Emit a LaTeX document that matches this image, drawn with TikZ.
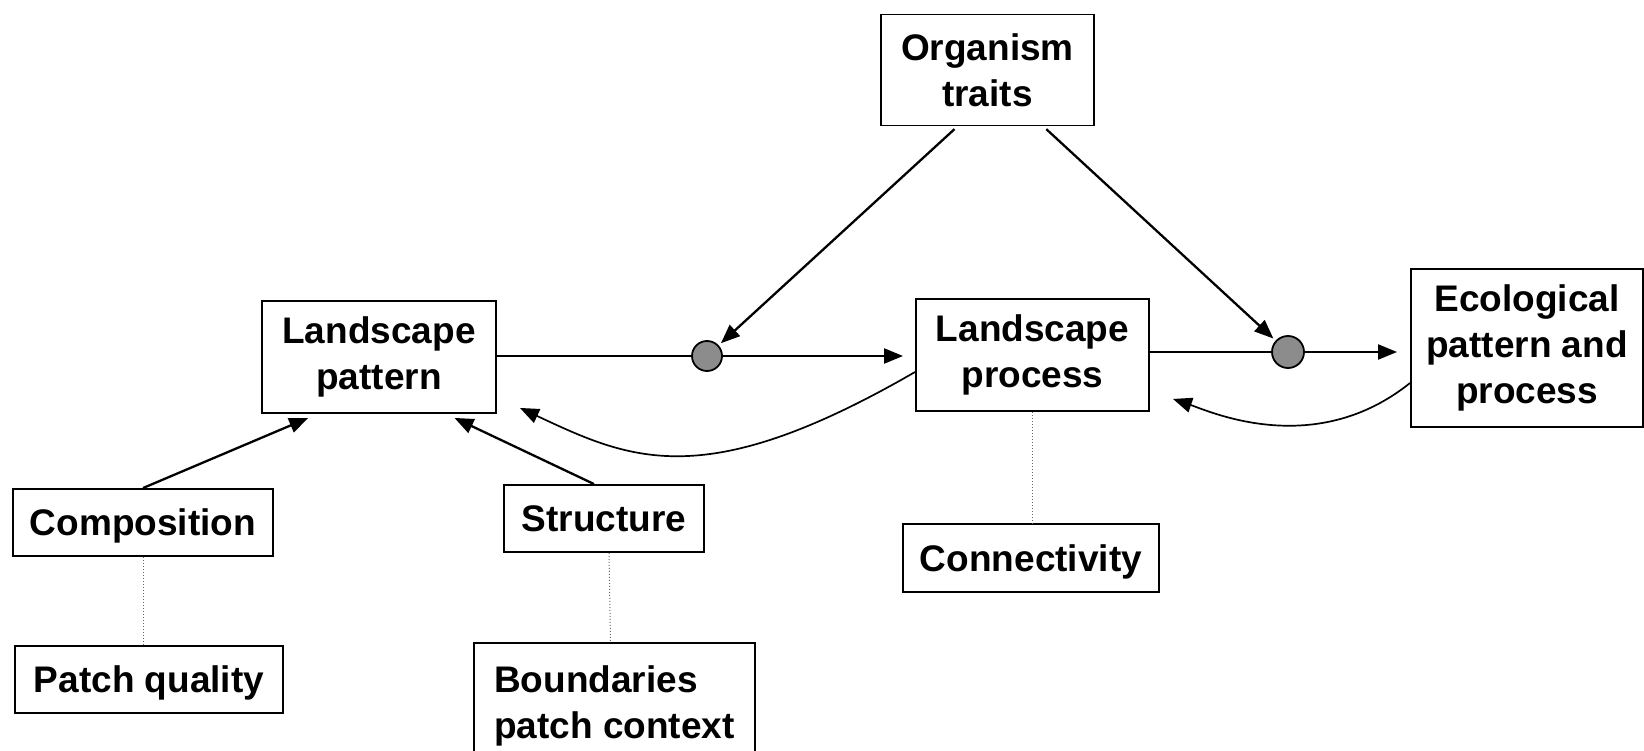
\documentclass[tikz,border=0pt]{standalone}
\usepackage{fontspec}
\setmainfont{Liberation Sans}
\usetikzlibrary{arrows.meta,positioning,calc}
\newcommand\boxfont{\fontsize{37}{46}\selectfont\bfseries}
\tikzset{
  box/.style={rectangle, draw, line width=1.9pt, font=\boxfont, align=center, inner sep=0pt},
  onebox/.style={box, text depth=0pt},
  knot/.style={circle, draw, line width=1.8pt, fill=black!45, inner sep=0pt, minimum size=30pt},
  link/.style={-{Triangle[length=19pt,width=15pt]}, line width=2.3pt},
  backlink/.style={-{Triangle[length=19pt,width=15pt]}, line width=1.7pt},
  tie/.style={dotted, line width=1pt, black!60}
}
\begin{document}
\begin{tikzpicture}[x=1pt, y=-1pt]
    \useasboundingbox (0,0) rectangle (1644,751);
    \node[box, minimum width=213pt, minimum height=111pt] (org) at (987.5,70) {Organism\\traits};
    \node[box, minimum width=234pt, minimum height=112pt] (lpat) at (379,357) {Landscape\\pattern};
    \node[box, minimum width=233pt, minimum height=112pt] (lproc) at (1032.5,355) {Landscape\\process};
    \node[box, minimum width=232pt, minimum height=158pt] (eco) at (1527,348) {Ecological\\pattern and\\process};
    \node[onebox, minimum width=260pt, minimum height=67pt] (comp) at (143,522.5) {Composition};
    \node[onebox, minimum width=200pt, minimum height=67pt] (struct) at (604,518.5) {Structure};
    \node[onebox, minimum width=256pt, minimum height=68pt] (conn) at (1031,558) {Connectivity};
    \node[onebox, minimum width=268pt, minimum height=67pt] (patch) at (149,679.5) {Patch quality};
    \node[box, minimum width=281pt, inner ysep=23pt, align=left, anchor=north] (bound) at (614.5,642) {Boundaries\\patch context};
    
    \node[knot] (dot1) at (707,356) {};
    \node[knot, minimum size=32pt] (dot2) at (1288,352) {};
    
    % main chain
    \draw[line width=2.3pt] (lpat.east |- dot1) -- (dot1);
    \draw[link, shorten >=12pt] (dot1) -- (dot1 -| lproc.west);
    \draw[line width=2.3pt] (lproc.east |- dot2) -- (dot2);
    \draw[link, shorten >=13pt] (dot2) -- (dot2 -| eco.west);
    
    % organism traits
    \draw[link, shorten <=4pt, shorten >=3pt] ($(org.south west)!0.36!(org.south east)$) -- (dot1);
    \draw[link, shorten <=4pt, shorten >=3pt] ($(org.south west)!0.76!(org.south east)$) -- (dot2);
    
    % components of pattern
    \draw[link] (comp.north) -- ($(lpat.south west)!0.2!(lpat.south east)+(0,4)$);
    \draw[link] ($(struct.north)+(-10,0)$) -- ($(lpat.south west)!0.82!(lpat.south east)+(0,4)$);
    
    % feedback
    \draw[backlink] ($(lproc.west)+(0,17)$) .. controls +(-211,122) and +(111,52) .. ($(lpat.south east)+(23,-6)$);
    \draw[backlink] ($(eco.west)+(0,35)$) .. controls +(-95,76) and +(38,13) .. ($(lproc.south east)+(23,-13)$);
    
    % dotted ties
    \draw[tie] (comp.south) -- (comp.south |- patch.north);
    \draw[tie] ($(struct.south)+(5,0)$) -- ($(bound.north)+(-4,0)$);
    \draw[tie] (lproc.south) -- (lproc.south |- conn.north);
\end{tikzpicture}
\end{document}
